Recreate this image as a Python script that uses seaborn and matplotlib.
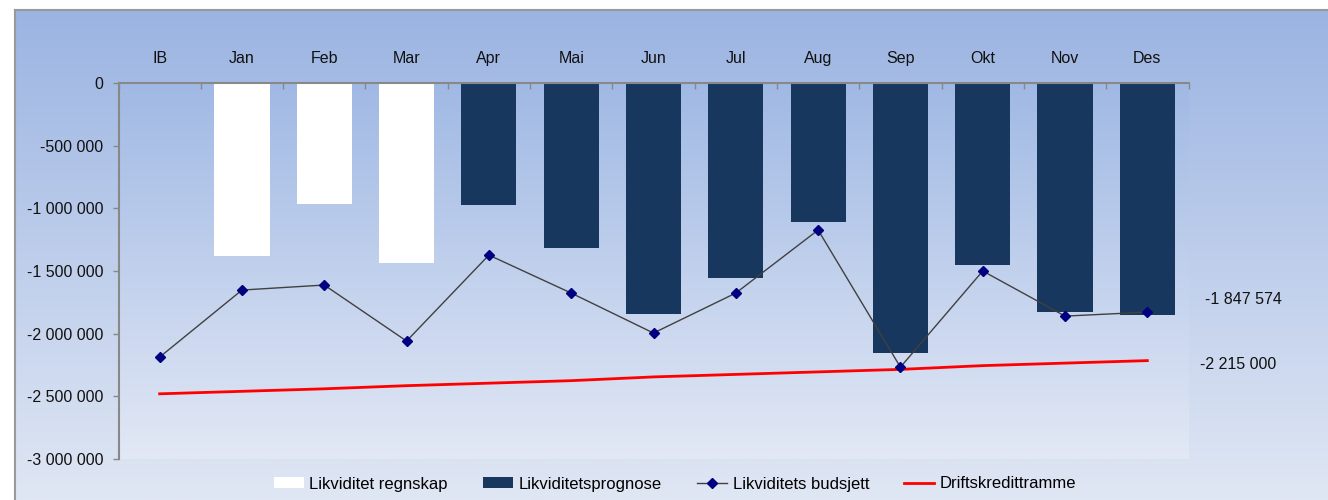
import numpy as np
import pandas as pd
import matplotlib
matplotlib.use("Agg")
import matplotlib.pyplot as plt
import seaborn as sns
from matplotlib.ticker import FuncFormatter, FixedLocator
from matplotlib.lines import Line2D
from matplotlib.patches import Patch
from matplotlib.colors import LinearSegmentedColormap

plt.rcParams['font.family'] = ['Liberation Sans', 'DejaVu Sans']

# ---- data ----
months = ["IB", "Jan", "Feb", "Mar", "Apr", "Mai", "Jun", "Jul", "Aug", "Sep", "Okt", "Nov", "Des"]
regnskap_months = ["Jan", "Feb", "Mar"]
regnskap = [-1380000, -965000, -1437000]
prognose_months = ["Apr", "Mai", "Jun", "Jul", "Aug", "Sep", "Okt", "Nov", "Des"]
prognose = [-975000, -1317000, -1843000, -1556000, -1110000, -2155000, -1452000, -1828000, -1847574]
budsjett = [-2187000, -1652000, -1612000, -2059000, -1373000, -1676000, -1995000,
            -1676000, -1173000, -2267000, -1500000, -1860000, -1828000]
ramme = [-2480000, -2460000, -2440000, -2415000, -2395000, -2375000, -2345000,
         -2325000, -2305000, -2285000, -2255000, -2235000, -2215000]
series_names = ["Likviditet regnskap", "Likviditetsprognose", "Likviditets budsjett", "Driftskredittramme"]

W, H = 1328, 500
fig = plt.figure(figsize=(W / 100, H / 100), dpi=100)

# chart area background gradient
bg = fig.add_axes([15 / W, 0, 1 - 15 / W, 490 / H])
cm_bg = LinearSegmentedColormap.from_list("bg", ["#9bb4e2", "#e0e7f4"])
bg.imshow(np.linspace(0, 1, 256).reshape(-1, 1), cmap=cm_bg, aspect="auto", extent=[0, 1, 0, 1])
bg.axis("off")
fig.add_artist(Line2D([15 / W, 1], [490 / H, 490 / H], color="#999999", lw=1.5, transform=fig.transFigure))
fig.add_artist(Line2D([15 / W, 15 / W], [0, 490 / H], color="#999999", lw=1.5, transform=fig.transFigure))

pos = [118.5 / W, 41 / H, 1070 / W, 376 / H]
# plot area gradient
pa = fig.add_axes(pos)
cm_pa = LinearSegmentedColormap.from_list("pa", ["#a0b9e4", "#e2e8f5"])
pa.imshow(np.linspace(0, 1, 256).reshape(-1, 1), cmap=cm_pa, aspect="auto", extent=[0, 1, 0, 1])
pa.axis("off")

ax = fig.add_axes(pos)
ax.patch.set_alpha(0)

df = pd.DataFrame({
    "Måned": regnskap_months + prognose_months,
    "Verdi": regnskap + prognose,
    "Serie": [series_names[0]] * len(regnskap) + [series_names[1]] * len(prognose),
})
sns.barplot(data=df, x="Måned", y="Verdi", hue="Serie", order=months,
            palette={series_names[0]: "white", series_names[1]: "#17375e"},
            dodge=False, width=0.67, errorbar=None, saturation=1, legend=False, ax=ax)

sns.pointplot(x=months, y=ramme, order=months, color="#ff0000", marker="", linewidth=2,
              errorbar=None, ax=ax)
sns.pointplot(x=months, y=budsjett, order=months, color="#404040", marker="D", linewidth=1,
              markersize=5, markerfacecolor="#000080", markeredgecolor="#000080",
              markeredgewidth=1, errorbar=None, ax=ax)

ax.set_ylim(-3000000, 0)
ax.set_xlim(-0.5, len(months) - 0.5)
ax.set_xlabel("")
ax.set_ylabel("")
ax.yaxis.set_major_locator(FixedLocator(np.arange(-3000000, 1, 500000)))
ax.yaxis.set_major_formatter(FuncFormatter(lambda v, p: f"{int(v):,}".replace(",", " ")))

ax.xaxis.set_ticks_position("top")
ax.xaxis.set_label_position("top")
ax.set_xticks(range(len(months)))
ax.set_xticklabels(months)
ax.xaxis.set_minor_locator(FixedLocator(np.arange(-0.5, len(months), 1)))
ax.tick_params(axis="x", which="major", length=0, pad=12, labelsize=11.5, labelcolor="#111111",
               top=True, bottom=False, labeltop=True, labelbottom=False)
ax.tick_params(axis="x", which="minor", direction="in", length=4, width=1, color="#888888",
               top=True, bottom=False)
ax.tick_params(axis="y", which="major", direction="out", length=4, width=1, color="#888888",
               pad=7, labelsize=11.5, labelcolor="#111111")

for s in ["right", "bottom"]:
    ax.spines[s].set_visible(False)
for s in ["left", "top"]:
    ax.spines[s].set_color("#888888")
    ax.spines[s].set_linewidth(1.5)

# end-value labels
ax.annotate(f"{prognose[-1]:,}".replace(",", " "), xy=(1, prognose[-1]),
            xycoords=("axes fraction", "data"), xytext=(12, 11), textcoords="offset points",
            ha="left", va="center", fontsize=11.5, color="#111111", annotation_clip=False)
ax.annotate(f"{ramme[-1]:,}".replace(",", " "), xy=(1, ramme[-1]),
            xycoords=("axes fraction", "data"), xytext=(8, -3), textcoords="offset points",
            ha="left", va="center", fontsize=11.5, color="#111111", annotation_clip=False)

handles = [
    Patch(facecolor="white", edgecolor="none"),
    Patch(facecolor="#17375e", edgecolor="none"),
    Line2D([], [], color="#404040", lw=1, marker="D", markersize=5,
           markerfacecolor="#000080", markeredgecolor="#000080"),
    Line2D([], [], color="#ff0000", lw=2),
]
fig.legend(handles, series_names, loc="center", bbox_to_anchor=(675 / W, 16 / H), ncol=4,
           frameon=False, fontsize=12, handlelength=1.8, handleheight=0.6,
           handletextpad=0.35, columnspacing=2.1)

fig.savefig("out.png", dpi=100)
